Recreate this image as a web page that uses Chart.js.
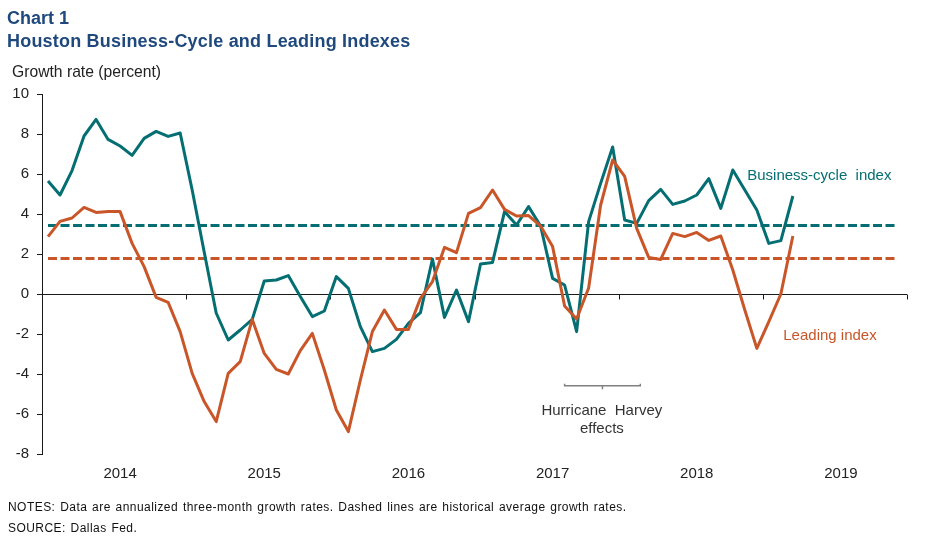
<!DOCTYPE html>
<html><head><meta charset="utf-8">
<script src="https://cdn.jsdelivr.net/npm/chart.js@4.4.0/dist/chart.umd.min.js"></script>
<style>
html,body{margin:0;padding:0;background:#fff;}
body{width:949px;height:541px;position:relative;overflow:hidden;font-family:'Liberation Sans',Arial,sans-serif;}
#wrap{position:absolute;left:0;top:0;width:949px;height:541px;}
.t{position:absolute;white-space:nowrap;line-height:1;}
</style></head><body>
<div id="wrap"><canvas id="c" width="949" height="541"></canvas></div>
<div class="t" style="left:7px;top:8px;font:bold 18px 'Liberation Sans',Arial;color:#1F497D">Chart 1</div>
<div class="t" style="left:7px;top:31px;font:bold 18px 'Liberation Sans',Arial;color:#1F497D;letter-spacing:0.2px">Houston Business-Cycle and Leading Indexes</div>
<div class="t" style="left:12px;top:63px;font:15.7px 'Liberation Sans',Arial;color:#222">Growth rate (percent)</div>
<div class="t" style="left:8px;top:500px;font:12px 'Liberation Sans',Arial;color:#111;letter-spacing:0.45px;word-spacing:1px">NOTES: Data are annualized three-month growth rates. Dashed lines are historical average growth rates.</div>
<div class="t" style="left:8px;top:521px;font:12px 'Liberation Sans',Arial;color:#111;letter-spacing:0.45px;word-spacing:1px">SOURCE: Dallas Fed.</div>
<script>
// Months since Jan 2014 (index 0 = Jan 2014)
const yearLabels = ['2014','2015','2016','2017','2018','2019'];
const businessCycle = [5.65,4.95,6.17,7.9,8.73,7.73,7.4,6.93,7.78,8.13,7.88,8.05,
  5.2,2.1,-0.95,-2.3,-1.8,-1.27,0.65,0.7,0.92,-0.13,-1.13,-0.85,
  0.87,0.28,-1.63,-2.88,-2.72,-2.27,-1.47,-0.93,1.75,-1.17,0.2,-1.38,
  1.5,1.58,4.12,3.45,4.37,3.4,0.78,0.45,-1.88,3.62,5.53,7.35,
  3.7,3.53,4.67,5.23,4.48,4.65,4.95,5.77,4.28,6.2,5.2,4.2,
  2.53,2.67,4.9];
const leading = [2.87,3.63,3.8,4.33,4.08,4.12,4.12,2.53,1.37,-0.17,-0.42,-1.88,
  -3.97,-5.38,-6.38,-3.97,-3.38,-1.27,-2.97,-3.77,-4.0,-2.83,-1.97,-3.8,
  -5.8,-6.88,-4.3,-1.88,-0.8,-1.77,-1.77,-0.22,0.62,2.33,2.07,4.03,
  4.32,5.2,4.23,3.9,3.92,3.4,2.37,-0.6,-1.25,0.3,4.45,6.7,
  5.88,3.28,1.83,1.73,3.03,2.87,3.08,2.68,2.9,1.2,-0.8,-2.72,
  -1.38,0.0,2.9];
const businessCycleAvg = 3.43;
const leadingAvg = 1.78;
const avgLineEnd = 70.6;
const harveyStart = 43, harveyEnd = 49.3, harveyMid = 46.15, harveyLevel = -4.585;

const TEAL = '#046E72';
const ORANGE = '#C95629';
const FONT = "'Liberation Sans', Arial, sans-serif";

const toPts = arr => arr.map((v,i)=>({x:i,y:v}));
const flat = (v)=>[{x:0,y:v},{x:avgLineEnd,y:v}];

const overlay = {
  id:'overlay',
  beforeDatasetsDraw(chart){
    const {ctx, chartArea:a, scales:{x,y}} = chart;
    const y0 = Math.round(y.getPixelForValue(0))+0.5;
    ctx.save();
    ctx.strokeStyle = '#1a1a1a'; ctx.lineWidth = 1;
    ctx.beginPath(); ctx.moveTo(a.left,y0); ctx.lineTo(a.right,y0);
    for(let k=1;k<=yearLabels.length;k++){
      const px = Math.round(x.getPixelForValue(-0.5+12*k))+0.5;
      ctx.moveTo(px,y0); ctx.lineTo(px,y0+5);
    }
    ctx.stroke();
    ctx.restore();
  },
  afterDatasetsDraw(chart){
    const {ctx, scales:{x,y}} = chart;
    ctx.save();
    // Harvey bracket
    const by = y.getPixelForValue(harveyLevel);
    const bx1 = x.getPixelForValue(harveyStart), bx2 = x.getPixelForValue(harveyEnd), bm = x.getPixelForValue(harveyMid);
    ctx.strokeStyle = '#808080'; ctx.lineWidth = 1.5;
    ctx.beginPath();
    ctx.moveTo(bx1,by-2); ctx.lineTo(bx1,by); ctx.lineTo(bx2,by); ctx.lineTo(bx2,by-2);
    ctx.moveTo(bm,by); ctx.lineTo(bm,by+3.5);
    ctx.stroke();
    ctx.font = '15px '+FONT; ctx.textBaseline='middle';
    ctx.fillStyle = '#333'; ctx.textAlign='center';
    ctx.fillText('Hurricane  Harvey', x.getPixelForValue(46.1), y.getPixelForValue(-5.85));
    ctx.fillText('effects', x.getPixelForValue(46.1), y.getPixelForValue(-6.75));
    ctx.textAlign='left';
    ctx.fillStyle = TEAL;
    ctx.fillText('Business-cycle  index', x.getPixelForValue(58.2), y.getPixelForValue(5.9));
    ctx.fillStyle = ORANGE;
    ctx.fillText('Leading index', x.getPixelForValue(61.2), y.getPixelForValue(-2.1));
    ctx.restore();
  }
};

const lineDs = (data,color)=>({data,borderColor:color,borderWidth:3,pointRadius:0,tension:0,fill:false,borderJoinStyle:'round',borderCapStyle:'butt'});
const dashDs = (data,color)=>({data,borderColor:color,borderWidth:3,pointRadius:0,tension:0,fill:false,borderDash:[9,3.5]});

new Chart(document.getElementById('c'),{
  type:'line',
  data:{datasets:[
    lineDs(toPts(leading),ORANGE),
    lineDs(toPts(businessCycle),TEAL),
    dashDs(flat(businessCycleAvg),TEAL),
    dashDs(flat(leadingAvg),ORANGE)
  ]},
  options:{
    responsive:false, animation:false, devicePixelRatio:1,
    layout:{padding:{left:0,right:42,top:94,bottom:0}},
    plugins:{legend:{display:false},tooltip:{enabled:false}},
    scales:{
      x:{type:'linear',min:-0.5,max:71.5,
        grid:{display:false,drawTicks:false}, border:{display:false},
        afterBuildTicks:s=>{s.ticks = yearLabels.map((l,i)=>({value:6+12*i}));},
        ticks:{autoSkip:false,maxRotation:0,padding:11,color:'#222',font:{size:15,family:FONT},
          callback:(v)=>yearLabels[Math.round((v-6)/12)]},
        afterFit:s=>{s.height=87;}
      },
      y:{min:-8,max:10,
        ticks:{stepSize:2,padding:8,color:'#222',font:{size:15,family:FONT}},
        grid:{drawOnChartArea:false,tickLength:5,color:'#1a1a1a',lineWidth:1},
        border:{display:true,color:'#1a1a1a',width:1},
        afterFit:s=>{s.width=42;}
      }
    }
  },
  plugins:[overlay]
});
</script>
</body></html>
